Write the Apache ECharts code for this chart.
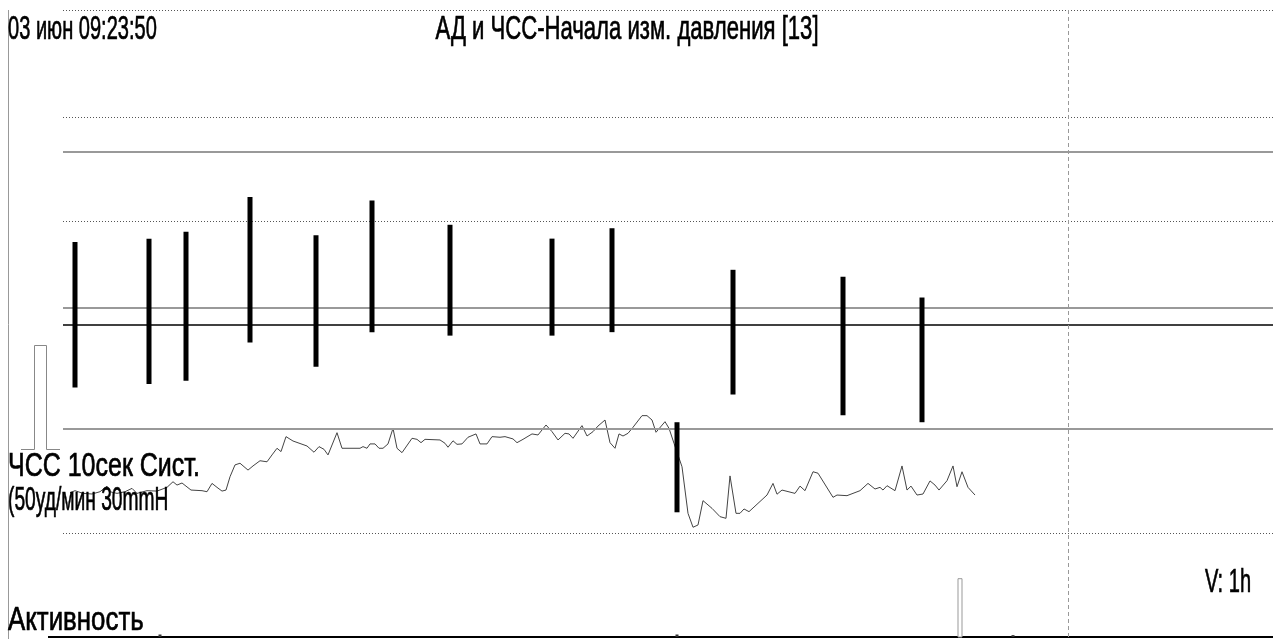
<!DOCTYPE html>
<html>
<head>
<meta charset="utf-8">
<script src="https://cdn.jsdelivr.net/npm/echarts@6/dist/echarts.min.js"></script>
<style>
html,body{margin:0;padding:0;background:#fff;}
#chart{width:1273px;height:639px;}
</style>
</head>
<body>
<div id="chart"></div>
<script>
// ---- Data (time axis in minutes from record start) ----
var bpTime = [12, 86, 123, 187, 253, 309, 387, 489, 549, 614, 670, 780, 859];
var bpSys  = [114, 115, 117, 127, 116, 126, 119, 115, 118, 62, 106, 104, 98];
var bpDia  = [72, 73, 74, 85, 78, 88, 87, 87, 88, 36, 70, 64, 62];

var hrPoints = [[7,69.4],[12,70.4],[20,69.1],[29,68.8],[37,69.9],[44,72.6],[47,69.9],[54,69.1],[62,69.9],[69,71.5],[74,69.1],[84,70.4],[94,70.2],[104,72.0],[110,74.7],[114,73.1],[119,74.1],[124,72.2],[128,70.7],[139,70.4],[144,69.9],[149,73.9],[154,72.0],[159,70.2],[163,70.7],[167,77.1],[172,82.8],[177,83.6],[185,80.3],[190,82.3],[197,84.8],[204,84.3],[209,87.6],[214,90.8],[218,89.2],[223,96.4],[230,94.3],[244,91.9],[251,88.9],[256,91.6],[261,90.3],[265,87.6],[274,98.3],[279,90.8],[297,90.8],[300,91.6],[304,90.8],[307,92.9],[312,92.9],[316,90.8],[320,90.8],[325,92.9],[330,100.4],[334,90.8],[339,88.7],[349,95.6],[354,95.1],[358,93.5],[362,95.1],[377,94.8],[382,93.2],[385,91.3],[390,94.4],[394,92.7],[399,92.9],[405,96.1],[413,97.7],[417,92.9],[424,92.9],[429,96.4],[437,96.1],[442,96.4],[450,95.3],[454,93.5],[460,95.1],[469,97.7],[475,97.2],[483,102.0],[489,98.8],[495,94.8],[502,98.0],[506,97.7],[510,95.6],[519,101.7],[524,96.7],[530,98.8],[535,101.5],[542,104.4],[547,93.5],[552,90.8],[556,97.7],[560,96.7],[565,98.0],[570,100.9],[579,106.5],[584,106.5],[589,104.4],[593,98.5],[602,103.6],[606,100.4],[611,93.2],[619,81.9],[625,59.5],[630,52.8],[635,53.9],[640,65.6],[649,61.9],[657,57.9],[663,57.1],[667,77.5],[673,59.5],[677,59.5],[681,61.6],[686,60.3],[695,64.3],[704,68.3],[710,73.9],[714,68.7],[719,70.7],[732,69.1],[737,72.6],[742,70.4],[750,79.5],[755,78.8],[770,67.2],[774,68.3],[784,68.0],[797,70.4],[805,73.9],[812,71.2],[817,72.0],[820,70.7],[824,72.8],[832,70.4],[839,82.3],[844,70.7],[848,72.6],[854,68.3],[860,68.8],[867,75.1],[872,73.1],[876,70.7],[884,75.2],[890,82.3],[894,72.3],[899,79.5],[905,72.0],[912,68.3]];

var actTime  = [97, 614, 897, 950];
var actValue = [0.4, 0.4, 9.3, 0.3];

var dottedLevels = [181, 150, 120, 30];   // mmHg
var grayLevels   = [140, 95, 60];         // mmHg
var blackLevels  = [90];                  // mmHg
var markerTimes  = [1005];                // vertical dashed marker

var titleText  = 'АД и ЧСС-Начала изм. давления [13]';
var dateText   = '03 июн 09:23:50';
var scaleLine1 = 'ЧСС 10сек Сист.';
var scaleLine2 = '(50уд/мин 30mmH';
var actLabel   = 'Активность';
var vLabel     = 'V: 1h';

// ---- Chart ----
var chart = echarts.init(document.getElementById('chart'), null, {renderer: 'canvas'});
var FONT = '"Liberation Sans", Arial, sans-serif';

function txt(text, x, y, size, sx, align) {
  return {
    type: 'text', x: x, y: y, scaleX: sx, z: 100,
    style: {
      text: text, font: size + 'px ' + FONT, fill: '#000',
      stroke: '#000', lineWidth: 0.7,
      align: align, verticalAlign: 'middle',
      textAlign: align, textVerticalAlign: 'middle'
    }
  };
}

var bpData = bpTime.map(function (t, i) { return [t, bpSys[i], bpDia[i]]; });
var actData = actTime.map(function (t, i) { return [t, actValue[i]]; });

var markLineData = [];
dottedLevels.forEach(function (v) {
  markLineData.push({yAxis: v, lineStyle: {color: '#555', type: [1, 2], width: 1}});
});
grayLevels.forEach(function (v) {
  markLineData.push({yAxis: v, lineStyle: {color: '#999', type: 'solid', width: 2}});
});
blackLevels.forEach(function (v) {
  markLineData.push({yAxis: v, lineStyle: {color: '#000', type: 'solid', width: 1.5}});
});
markerTimes.forEach(function (v) {
  markLineData.push({xAxis: v, lineStyle: {color: '#999', type: [4, 3], width: 1}});
});

var option = {
  animation: false,
  backgroundColor: '#fff',
  grid: {left: 63, right: 0, top: 10, bottom: 2, containLabel: false},
  xAxis: {
    type: 'value', min: 0, max: 1210,
    axisLine: {show: true, onZero: false, lineStyle: {color: '#000', width: 2}},
    axisTick: {show: false}, axisLabel: {show: false}, splitLine: {show: false}
  },
  yAxis: [
    {type: 'value', min: 0, max: 181, show: false, splitLine: {show: false}},
    {type: 'value', min: 0, max: 181 * 5 / 3, show: false, splitLine: {show: false}},
    {type: 'value', min: 0, max: 100, show: false, splitLine: {show: false}}
  ],
  series: [
    {
      name: 'АД', type: 'custom', yAxisIndex: 0, z: 5,
      renderItem: function (params, api) {
        var top = api.coord([api.value(0), api.value(1)]);
        var bot = api.coord([api.value(0), api.value(2)]);
        var w = 5;
        return {type: 'rect', shape: {x: top[0] - w / 2, y: top[1], width: w, height: bot[1] - top[1]},
                style: {fill: '#000'}};
      },
      encode: {x: 0, y: [1, 2]},
      data: bpData,
      markLine: {silent: true, symbol: 'none', label: {show: false}, animation: false, data: markLineData}
    },
    {
      name: 'ЧСС', type: 'line', yAxisIndex: 1, z: 4,
      data: hrPoints, showSymbol: false, symbol: 'none',
      lineStyle: {color: '#444', width: 1}
    },
    {
      name: 'Активность', type: 'custom', yAxisIndex: 2, z: 4,
      renderItem: function (params, api) {
        var top = api.coord([api.value(0), api.value(1)]);
        var base = api.coord([api.value(0), 0]);
        var big = api.value(1) > 2;
        var w = big ? 4 : 3;
        return {type: 'rect', shape: {x: top[0] - w / 2, y: top[1], width: w, height: base[1] - top[1]},
                style: big ? {fill: '#fff', stroke: '#999', lineWidth: 1} : {fill: '#333'}};
      },
      encode: {x: 0, y: 1},
      data: actData
    }
  ],
  graphic: [
    {type: 'line', shape: {x1: 8.5, y1: 10, x2: 8.5, y2: 639}, style: {stroke: '#999', lineWidth: 1}},
    {type: 'line', shape: {x1: 48, y1: 637, x2: 64, y2: 637}, style: {stroke: '#000', lineWidth: 2}},
    {type: 'polyline', shape: {points: [[21, 449.5], [34.5, 449.5], [34.5, 345.5], [46.5, 345.5], [46.5, 449.5], [60, 449.5]]},
     style: {stroke: '#888', lineWidth: 1, fill: null}},
    txt(dateText, 8, 30, 34, 0.59, 'left'),
    txt(titleText, 627, 30, 34, 0.65, 'center'),
    txt(scaleLine1, 8, 467, 34, 0.735, 'left'),
    txt(scaleLine2, 8, 501, 34, 0.565, 'left'),
    txt(actLabel, 8, 621, 34, 0.76, 'left'),
    txt(vLabel, 1228, 583, 34, 0.59, 'center')
  ]
};
chart.setOption(option);
</script>
</body>
</html>
